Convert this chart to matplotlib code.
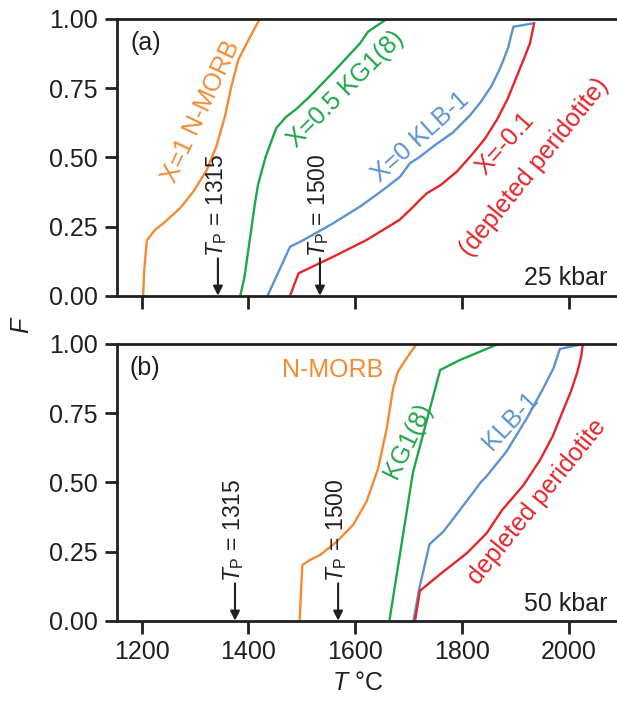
import matplotlib
matplotlib.use("Agg")
import matplotlib.pyplot as plt

plt.rcParams['font.family'] = ['Liberation Sans', 'DejaVu Sans']
plt.rcParams['mathtext.fontset'] = 'custom'
plt.rcParams['mathtext.rm'] = 'Liberation Sans'
plt.rcParams['mathtext.it'] = 'Liberation Sans:italic'

# --- data (T in deg C, F = melt fraction) ---
# (a) 25 kbar
morb_a_T = [1203, 1205, 1210, 1225, 1244, 1272, 1297, 1322, 1340, 1356, 1368, 1381, 1397, 1421]
morb_a_F = [0, 0.09, 0.20, 0.237, 0.267, 0.316, 0.376, 0.454, 0.539, 0.647, 0.755, 0.852, 0.912, 1.0]
kg1_a_T = [1385, 1393, 1398, 1404, 1412, 1418, 1432, 1452, 1470, 1490, 1515, 1560, 1609, 1624, 1659]
kg1_a_F = [0, 0.07, 0.14, 0.22, 0.33, 0.40, 0.50, 0.605, 0.645, 0.675, 0.72, 0.81, 0.912, 0.954, 1.0]
klb_a_T = [1436, 1478, 1503, 1559, 1609, 1652, 1684, 1702, 1721, 1750, 1783, 1815, 1835, 1855, 1872, 1886, 1896, 1933]
klb_a_F = [0, 0.177, 0.201, 0.262, 0.322, 0.382, 0.43, 0.478, 0.502, 0.545, 0.59, 0.652, 0.700, 0.758, 0.825, 0.895, 0.972, 0.984]
dep_a_T = [1478, 1494, 1559, 1621, 1683, 1709, 1721, 1734, 1760, 1790, 1815, 1842, 1865, 1885, 1902, 1917, 1927, 1935]
dep_a_F = [0, 0.081, 0.141, 0.201, 0.274, 0.322, 0.346, 0.37, 0.40, 0.448, 0.502, 0.565, 0.635, 0.71, 0.791, 0.862, 0.912, 0.984]

# (b) 50 kbar
morb_b_T = [1496, 1501, 1515, 1534, 1565, 1596, 1621, 1643, 1659, 1671, 1680, 1696, 1715]
morb_b_F = [0, 0.201, 0.219, 0.237, 0.285, 0.346, 0.43, 0.551, 0.695, 0.84, 0.90, 0.948, 1.0]
kg1_b_T = [1664, 1708, 1759, 1796, 1868]
kg1_b_F = [0, 0.535, 0.906, 0.942, 1.0]
klb_b_T = [1709, 1720, 1739, 1765, 1796, 1835, 1845, 1883, 1921, 1952, 1971, 1983, 2027]
klb_b_F = [0, 0.117, 0.276, 0.322, 0.40, 0.50, 0.52, 0.611, 0.731, 0.84, 0.912, 0.982, 1.0]
dep_b_T = [1712, 1721, 1759, 1809, 1846, 1868, 1875, 1915, 1946, 1970, 1988, 2004, 2016, 2023, 2026]
dep_b_F = [0, 0.108, 0.168, 0.244, 0.316, 0.38, 0.40, 0.49, 0.581, 0.668, 0.755, 0.83, 0.90, 0.955, 1.0]

tp_values = [1315, 1500]
tp_arrow_a = [1343, 1534]
tp_arrow_b = [1375, 1568]

c_morb = '#f58a33'
c_kg1 = '#1fa64a'
c_klb = '#5b93d1'
c_dep = '#e2262c'
ink = '#231f20'

fig = plt.figure(figsize=(6.17, 7.03), dpi=100)
ax_a = fig.add_axes([0.1904, 0.5794, 0.8096, 0.3936])
ax_b = fig.add_axes([0.1904, 0.1171, 0.8096, 0.3936])

fs = 18      # general text
fs_tp = 16.5 # vertical T_P annotations

for ax in (ax_a, ax_b):
    ax.set_xlim(1155, 2090)
    ax.set_ylim(0, 1)
    ax.set_xticks([1200, 1400, 1600, 1800, 2000])
    ax.set_yticks([0, 0.25, 0.5, 0.75, 1.0])
    ax.set_yticklabels(['0.00', '0.25', '0.50', '0.75', '1.00'])
    ax.spines['right'].set_visible(False)
    for s in ('left', 'bottom', 'top'):
        ax.spines[s].set_linewidth(2)
        ax.spines[s].set_color(ink)
    ax.tick_params(direction='out', length=9, width=2, color=ink,
                   labelsize=fs, labelcolor=ink, pad=5)

ax_a.tick_params(labelbottom=False)

lw = 1.7
ax_a.plot(morb_a_T, morb_a_F, color=c_morb, lw=lw)
ax_a.plot(kg1_a_T, kg1_a_F, color=c_kg1, lw=lw)
ax_a.plot(klb_a_T, klb_a_F, color=c_klb, lw=lw)
ax_a.plot(dep_a_T, dep_a_F, color=c_dep, lw=lw)

ax_b.plot(morb_b_T, morb_b_F, color=c_morb, lw=lw)
ax_b.plot(kg1_b_T, kg1_b_F, color=c_kg1, lw=lw)
ax_b.plot(klb_b_T, klb_b_F, color=c_klb, lw=lw)
ax_b.plot(dep_b_T, dep_b_F, color=c_dep, lw=lw)

# potential temperature arrows
for ax, xs in ((ax_a, tp_arrow_a), (ax_b, tp_arrow_b)):
    for x, tp in zip(xs, tp_values):
        ax.annotate('', xy=(x, 0), xytext=(x, 0.135),
                    arrowprops=dict(arrowstyle='-|>', color=ink, lw=1.5,
                                    mutation_scale=14, shrinkA=0, shrinkB=0))
        ax.text(x - 3, 0.14, r'$T_{\mathrm{P}}$ = %d' % tp, rotation=90,
                ha='center', va='bottom', fontsize=fs_tp, color=ink)

# panel labels
ax_a.text(0.027, 0.913, '(a)', transform=ax_a.transAxes, fontsize=fs, color=ink, va='center')
ax_b.text(0.025, 0.913, '(b)', transform=ax_b.transAxes, fontsize=fs, color=ink, va='center')
ax_a.text(0.98, 0.065, '25 kbar', transform=ax_a.transAxes, fontsize=fs, color=ink,
          ha='right', va='center')
ax_b.text(0.98, 0.06, '50 kbar', transform=ax_b.transAxes, fontsize=fs, color=ink,
          ha='right', va='center')

# curve labels
ax_a.text(1311, 0.665, 'X=1 N-MORB', color=c_morb, fontsize=fs, rotation=65,
          ha='center', va='center', rotation_mode='anchor')
ax_a.text(1582, 0.745, 'X=0.5 KG1(8)', color=c_kg1, fontsize=fs, rotation=45,
          ha='center', va='center', rotation_mode='anchor')
ax_a.text(1722, 0.572, 'X=0 KLB-1', color=c_klb, fontsize=fs, rotation=42,
          ha='center', va='center', rotation_mode='anchor')
ax_a.text(1880, 0.548, 'X=-0.1', color=c_dep, fontsize=fs, rotation=48,
          ha='center', va='center', rotation_mode='anchor')
ax_a.text(1935, 0.463, '(depleted peridotite)', color=c_dep, fontsize=fs, rotation=51,
          ha='center', va='center', rotation_mode='anchor')

ax_b.text(1558, 0.906, 'N-MORB', color=c_morb, fontsize=fs, ha='center', va='center')
ax_b.text(1698, 0.65, 'KG1(8)', color=c_kg1, fontsize=fs, rotation=64,
          ha='center', va='center', rotation_mode='anchor')
ax_b.text(1890, 0.722, 'KLB-1', color=c_klb, fontsize=fs, rotation=47,
          ha='center', va='center', rotation_mode='anchor')
ax_b.text(1940, 0.43, 'depleted peridotite', color=c_dep, fontsize=fs, rotation=51,
          ha='center', va='center', rotation_mode='anchor')

fig.text(358 / 617, 1 - 683 / 703, r'$T$ °C', fontsize=fs, color=ink, ha='center', va='center')
fig.text(22 / 617, 1 - 325 / 703, r'$F$', fontsize=fs, color=ink, ha='center', va='center',
         rotation=90)

fig.savefig('out.png', dpi=100)
